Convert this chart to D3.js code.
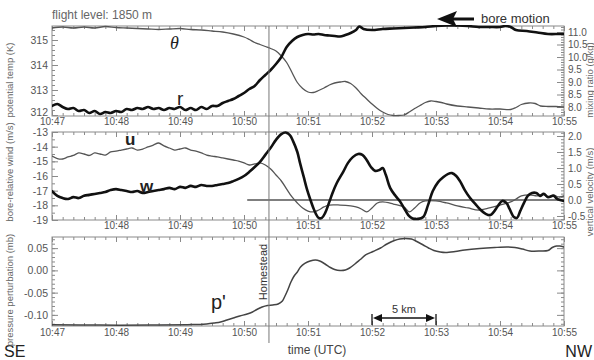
<!DOCTYPE html>
<html><head><meta charset="utf-8">
<script src="https://cdn.jsdelivr.net/npm/d3@7"></script>
<style>body{margin:0;background:#fff}svg{display:block}</style>
</head><body><svg id="c" width="594" height="360"></svg>
<script>
// ---------- DATA (time in seconds after 10:47:00) ----------
const timeTickLabels = ["10:47","10:48","10:49","10:50","10:51","10:52","10:53","10:54","10:55"];
const p1LeftTicks = [312,313,314,315];
const p1RightTicks = [8.0,8.5,9.0,9.5,10.0,10.5,11.0];
const p2LeftTicks = [-19,-18,-17,-16,-15,-14,-13];
const p2RightTicks = [-0.5,0.0,0.5,1.0,1.5,2.0];
const p3LeftTicks = [-0.10,-0.05,0.00,0.05];

const thetaSec = [0,10,20,30,40,50,60,70,80,90,100,110,120,130,140,150,160,170,180,185,190,195,200,205,210,215,220,225,230,235,240,245,250,255,260,265,270,275,280,285,290,295,300,305,310,315,320,325,330,335,340,345,350,355,360,365,370,380,390,400,410,420,430,435,440,447,453,458,465,472,480];
const thetaK = [315.48,315.52,315.48,315.52,315.48,315.54,315.50,315.48,315.46,315.44,315.42,315.44,315.46,315.42,315.40,315.36,315.32,315.24,315.12,315.02,314.90,314.82,314.74,314.66,314.56,314.36,314.10,313.70,313.30,313.06,312.92,312.90,312.98,313.08,313.20,313.28,313.32,313.34,313.26,313.08,312.84,312.64,312.44,312.26,312.12,312.02,311.98,311.98,312.00,312.12,312.26,312.38,312.50,312.56,312.54,312.50,312.44,312.36,312.32,312.28,312.24,312.24,312.22,312.30,312.42,312.48,312.46,312.36,312.34,312.34,312.32];

const rSec = [0,5,10,15,20,25,30,35,40,45,50,55,60,65,70,75,80,85,90,95,100,105,110,115,120,125,130,135,140,145,150,155,160,165,170,175,180,185,190,195,200,205,210,215,220,225,230,235,240,245,250,255,260,265,270,275,280,285,288,292,300,310,320,330,340,350,360,370,380,390,400,410,420,425,430,435,445,455,465,475,480];
const rGkg = [8.04,8.12,8.0,7.92,7.96,7.84,7.88,7.76,7.84,7.72,7.8,7.76,7.84,7.8,7.92,7.88,7.96,7.92,8.0,7.92,7.96,7.88,7.96,7.92,8.0,7.88,7.96,7.88,8.0,7.92,8.04,8.04,8.16,8.24,8.32,8.44,8.56,8.72,8.84,9.08,9.28,9.48,9.72,10.0,10.4,10.64,10.8,10.88,10.92,10.9,10.92,10.88,10.86,10.84,10.82,10.88,10.96,11.08,11.22,11.12,11.08,11.12,11.14,11.16,11.18,11.2,11.24,11.26,11.26,11.24,11.2,11.2,11.2,11.24,11.2,11.08,11.04,10.98,10.92,10.92,10.92];

const uSec = [0,5,10,15,20,25,30,35,40,45,50,55,60,65,70,75,80,85,90,95,100,105,110,115,120,125,130,135,140,145,150,155,160,165,170,175,180,185,190,195,200,205,210,215,220,225,230,235,240,245,250,255,260,270,280,285,290,295,300,305,310,320,330,335,340,345,350,360,370,380,390,400,410,420,430,435,440,448,455,460,465,470,475,480];
const uMs = [-14.64,-14.81,-14.84,-14.70,-14.60,-14.43,-14.50,-14.60,-14.43,-14.50,-14.57,-14.36,-14.30,-14.23,-14.16,-14.09,-14.23,-14.16,-14.02,-13.89,-13.75,-13.95,-14.09,-14.23,-14.16,-14.09,-14.23,-14.30,-14.43,-14.57,-14.64,-14.70,-14.77,-14.84,-14.91,-14.98,-15.11,-15.25,-15.18,-15.11,-15.25,-15.52,-15.93,-16.34,-16.89,-17.43,-17.84,-18.18,-18.39,-18.45,-18.32,-18.11,-17.98,-17.98,-18.04,-18.11,-18.25,-18.45,-18.18,-17.84,-17.77,-17.91,-18.11,-18.45,-18.18,-17.84,-17.70,-17.70,-17.84,-18.04,-18.18,-18.32,-18.18,-17.98,-17.77,-17.57,-17.36,-17.29,-17.36,-17.23,-17.43,-17.29,-17.43,-17.36];

const wSec = [0,5,10,15,20,25,30,35,40,45,50,55,60,65,70,75,80,85,90,95,100,105,110,115,120,125,130,135,140,145,150,155,160,165,170,175,180,185,190,195,200,205,210,215,219,223,226,230,232.5,236,239,242,245,247.5,250,253,256,260,263,267,273,277.5,282,287,291,295,299,303,307,310,313,317,322,326,330,334,338,343,348,352.5,357,362,367,371,375,379,382.5,387,392,397,401,407,411,414,418,422,426,429,433,436,439,442.5,446,450,454,457.5,461,465,470,474,480];
const wMs = [0.28,0.13,0.06,0.03,0.09,0.06,0.13,0.16,0.19,0.22,0.25,0.31,0.34,0.31,0.28,0.25,0.28,0.22,0.25,0.28,0.31,0.34,0.38,0.34,0.41,0.38,0.44,0.41,0.47,0.44,0.44,0.47,0.50,0.53,0.59,0.66,0.75,0.88,1.03,1.19,1.41,1.63,1.88,2.06,2.11,2.03,1.84,1.50,1.16,0.72,0.34,0.03,-0.25,-0.44,-0.56,-0.56,-0.41,-0.06,0.22,0.53,0.88,1.16,1.34,1.44,1.41,1.25,1.03,0.91,0.94,1.00,0.78,0.38,0.13,-0.03,-0.25,-0.47,-0.58,-0.59,-0.53,-0.16,0.28,0.56,0.72,0.81,0.84,0.75,0.59,0.31,0.06,-0.13,-0.28,-0.44,-0.47,-0.38,-0.19,-0.03,-0.09,-0.28,-0.53,-0.56,-0.34,-0.09,0.13,0.22,0.22,0.13,0.19,0.09,0.13,0.03,-0.03];

const pSec = [0,45,92,127,139,145,152,158,164,170,176,183,188,192,197,202,207,212,216,218,221,224,227,230,233,237,242,247,251,256,261,265,270,275,279,284,289,294,301,308,314,321,326,331,337,342,348,353,358,364,369,378,387,401,415,427,434,441,448,458,465,469,473,476,480];
const pMb = [-0.122,-0.123,-0.123,-0.122,-0.1216,-0.1205,-0.1183,-0.116,-0.1115,-0.107,-0.1025,-0.098,-0.0935,-0.0879,-0.0823,-0.0789,-0.0778,-0.0755,-0.0688,-0.0598,-0.0441,-0.0261,-0.0126,-0.0036,0.0076,0.0155,0.0211,0.0233,0.0211,0.0143,0.0065,0.002,-0.0003,0.0008,0.0053,0.0143,0.0244,0.0346,0.0424,0.0503,0.0593,0.0671,0.0705,0.0716,0.0705,0.0649,0.057,0.0503,0.0447,0.0413,0.0402,0.0424,0.0458,0.0492,0.0514,0.0525,0.0514,0.048,0.0435,0.0435,0.0447,0.0514,0.0548,0.0548,0.0525];

const homesteadSec = 203.4;   // vertical reference line
const zeroLineStartSec = 183;  // start of w=0 line
const scaleBarSec = [300, 360]; // "5 km" bar

// ---------- CHART ----------
const svg = d3.select("#c");
const FONT = "Liberation Sans, Arial, sans-serif";
const AX = "#8a8a8a", LBL = "#555";
const x = d3.scaleLinear().domain([0,480]).range([52,564]);
const majorT = timeTickLabels.map((d,i)=>i*60);
const minorT = d3.range(0,481,10);

const panels = [
  {top:26,bottom:116, yL:[311.96,315.56], yR:[7.64,11.24], lt:p1LeftTicks, lm:0.2, lf:d=>String(d),
   rt:p1RightTicks, rm:0.1, rf:d=>d.toFixed(1), xl:timeTickLabels, pad:2},
  {top:132,bottom:220, yL:[-19,-13], yR:[-0.625,2.125], lt:p2LeftTicks, lm:0.5, lf:d=>String(d),
   rt:p2RightTicks, rm:0.1, rf:d=>d.toFixed(1), xl:timeTickLabels.map((d,i)=>i===0?"":d), pad:2},
  {top:237,bottom:326, yL:[-0.125,0.075], yR:[-0.125,0.075], lt:p3LeftTicks, lm:0.01, lf:d=>d.toFixed(2),
   rt:p3LeftTicks, rm:0.01, rf:d=>"", xl:timeTickLabels, pad:3}
];

panels.forEach((p,i)=>{
  p.sL = d3.scaleLinear().domain(p.yL).range([p.bottom,p.top]);
  p.sR = d3.scaleLinear().domain(p.yR).range([p.bottom,p.top]);
  const g = svg.append("g");
  const styleAxis = sel => { sel.select(".domain").remove();
    sel.selectAll("line").attr("stroke",AX);
    sel.selectAll("text").attr("fill",LBL).style("font-family",FONT).style("font-size","10px"); };
  g.append("g").attr("transform",`translate(0,${p.bottom})`)
    .call(d3.axisBottom(x).tickValues(minorT).tickSize(-3).tickFormat("")).call(styleAxis);
  g.append("g").attr("transform",`translate(0,${p.bottom})`)
    .call(d3.axisBottom(x).tickValues(majorT).tickSize(-5).tickPadding(p.pad).tickFormat((d,j)=>p.xl[j])).call(styleAxis);
  g.append("g").attr("transform",`translate(0,${p.top})`)
    .call(d3.axisTop(x).tickValues(minorT).tickSize(-3).tickFormat("")).call(styleAxis);
  g.append("g").attr("transform",`translate(0,${p.top})`)
    .call(d3.axisTop(x).tickValues(majorT).tickSize(-5).tickFormat("")).call(styleAxis);
  const lmin = d3.range(Math.ceil(p.yL[0]/p.lm-1e-6)*p.lm, p.yL[1]+1e-9, p.lm);
  g.append("g").attr("transform","translate(52,0)")
    .call(d3.axisLeft(p.sL).tickValues(lmin).tickSize(-3).tickFormat("")).call(styleAxis);
  const la = g.append("g").attr("transform","translate(52,0)")
    .call(d3.axisLeft(p.sL).tickValues(p.lt).tickSize(-6).tickPadding(4).tickFormat(p.lf)).call(styleAxis);
  la.selectAll("text").style("font-size","10.5px");
  if(i===0) la.selectAll("text").filter(d=>d===312).attr("dy","0.05em");
  const rmin = d3.range(Math.ceil(p.yR[0]/p.rm-1e-6)*p.rm, p.yR[1]+1e-9, p.rm);
  g.append("g").attr("transform","translate(564,0)")
    .call(d3.axisRight(p.sR).tickValues(rmin).tickSize(-3).tickFormat("")).call(styleAxis);
  g.append("g").attr("transform","translate(564,0)")
    .call(d3.axisRight(p.sR).tickValues(p.rt).tickSize(-7).tickPadding(4).tickFormat(p.rf)).call(styleAxis);
  g.append("rect").attr("x",52).attr("y",p.top).attr("width",512).attr("height",p.bottom-p.top)
    .attr("fill","none").attr("stroke",AX).attr("stroke-width",1);
  svg.append("clipPath").attr("id","cp"+i).append("rect")
    .attr("x",52).attr("y",p.top-1).attr("width",512).attr("height",p.bottom-p.top+2);
});

const zip = (a,b)=>a.map((d,i)=>[d,b[i]]);
function drawLine(idx, scale, data, color, width){
  svg.append("path").datum(data).attr("clip-path",`url(#cp${idx})`)
    .attr("fill","none").attr("stroke",color).attr("stroke-width",width)
    .attr("stroke-linejoin","round").attr("stroke-linecap","round")
    .attr("d", d3.line().x(d=>x(d[0])).y(d=>scale(d[1])).curve(d3.curveCatmullRom.alpha(0.5)));
}
const [P1,P2,P3] = panels;
drawLine(0,P1.sL,zip(thetaSec,thetaK),"#555",1.3);
drawLine(0,P1.sR,zip(rSec,rGkg),"#111",2.6);
svg.append("line").attr("x1",x(zeroLineStartSec)).attr("x2",x(480))
  .attr("y1",P2.sR(0)).attr("y2",P2.sR(0)).attr("stroke","#555").attr("stroke-width",1.5);
drawLine(1,P2.sL,zip(uSec,uMs),"#555",1.3);
drawLine(1,P2.sR,zip(wSec,wMs),"#111",2.6);
drawLine(2,P3.sL,zip(pSec,pMb),"#444",1.5);

svg.append("line").attr("x1",x(homesteadSec)).attr("x2",x(homesteadSec))
  .attr("y1",P1.top).attr("y2",343).attr("stroke","#777").attr("stroke-width",1);

const T = (txt,xx,yy,size,opts={})=>{
  const t = svg.append("text").attr("x",xx).attr("y",yy).text(txt)
    .style("font-family",opts.family||FONT).style("font-size",size+"px")
    .attr("fill",opts.fill||"#333");
  if(opts.anchor) t.attr("text-anchor",opts.anchor);
  if(opts.weight) t.style("font-weight",opts.weight);
  if(opts.style) t.style("font-style",opts.style);
  if(opts.rot!==undefined) t.attr("transform",`rotate(${opts.rot},${xx},${yy})`);
  return t;
};
T("flight level: 1850 m",52,19,12,{fill:"#666"});
T("bore motion",481,23,13,{fill:"#333"});
T("\u03B8",170,49,18,{family:"Liberation Serif, serif",style:"italic",fill:"#222"});
T("r",177,105,19,{fill:"#222"});
T("u",125,145,17,{fill:"#222",weight:"bold"});
T("w",140,192,17,{fill:"#222",weight:"bold"});
T("p'",211,309,20,{fill:"#222"});
T("Homestead",267,272,11,{anchor:"middle",rot:-90,fill:"#333"});
T("5 km",404,313,11,{anchor:"middle",fill:"#333"});
T("time (UTC)",317,354,12,{anchor:"middle",fill:"#444"});
T("SE",4,357,16,{fill:"#222"});
T("NW",592,357,16,{anchor:"end",fill:"#222"});
T("potential temp (K)",13,80,9.5,{anchor:"middle",rot:-90,fill:"#666"});
T("bore-relative wind (m/s)",13,172,9.5,{anchor:"middle",rot:-90,fill:"#666"});
T("pressure perturbation (mb)",13,290,9.5,{anchor:"middle",rot:-90,fill:"#666"});
T("mixing ratio (g/kg)",593,80,9.5,{anchor:"middle",rot:-90,fill:"#666"});
T("vertical velocity (m/s)",593,192,9.5,{anchor:"middle",rot:-90,fill:"#666"});

svg.append("line").attr("x1",452).attr("x2",474).attr("y1",19).attr("y2",19)
  .attr("stroke","#111").attr("stroke-width",3);
svg.append("path").attr("d","M437,19 L457,11 L453,19 L457,27 Z").attr("fill","#111");

const sb0 = x(scaleBarSec[0]), sb1 = x(scaleBarSec[1]), sy = 318;
svg.append("line").attr("x1",sb0+3).attr("x2",sb1-3).attr("y1",sy).attr("y2",sy).attr("stroke","#111").attr("stroke-width",1.5);
[sb0,sb1].forEach(v=>svg.append("line").attr("x1",v).attr("x2",v).attr("y1",314).attr("y2",325).attr("stroke","#111").attr("stroke-width",1.3));
svg.append("path").attr("d",`M${sb0+1},${sy} L${sb0+10},${sy-4} L${sb0+10},${sy+4} Z`).attr("fill","#111");
svg.append("path").attr("d",`M${sb1-1},${sy} L${sb1-10},${sy-4} L${sb1-10},${sy+4} Z`).attr("fill","#111");
</script></body></html>
